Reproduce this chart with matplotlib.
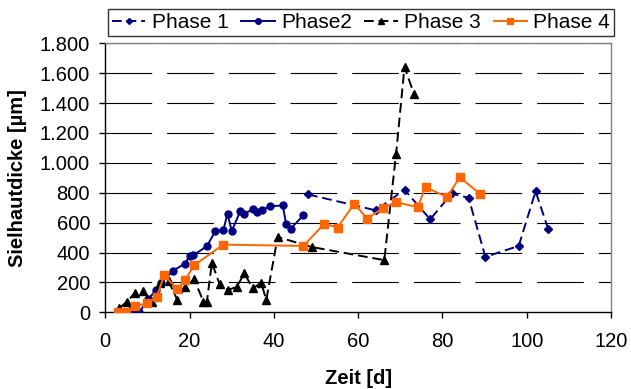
import matplotlib
matplotlib.use("Agg")
import matplotlib.pyplot as plt

plt.rcParams['font.family'] = ['Liberation Sans', 'DejaVu Sans']

# Phase 1 (navy, dashed, diamonds)
p1_x = [48.1, 64.2, 71.0, 77.1, 82.2, 86.2, 90.2, 98.1, 102.1, 105.1]
p1_y = [789, 682, 820, 622, 795, 766, 371, 444, 809, 557]

# Phase2 (navy, solid, circles)
p2_x = [6.3, 8.1, 10.2, 12.0, 13.2, 16.0, 18.9, 20.0, 20.9, 24.1, 26.1, 28.0, 29.0,
        30.0, 32.0, 33.0, 35.0, 36.1, 37.1, 39.0, 42.1, 42.9, 44.0, 47.0]
p2_y = [20, 2, 87, 149, 193, 277, 326, 375, 382, 442, 542, 549, 660,
        544, 675, 660, 689, 671, 682, 709, 715, 593, 560, 649]

# Phase 3 (black, dashed, triangles)
p3_x = [3.3, 5.1, 7.1, 9.0, 11.0, 13.0, 15.0, 17.1, 19.0, 21.1, 23.3, 24.1, 25.3,
        27.1, 29.1, 31.2, 33.0, 35.0, 37.0, 38.2, 40.9, 49.0, 66.2, 69.0, 71.0, 73.2]
p3_y = [27, 71, 131, 144, 70, 193, 209, 82, 171, 220, 71, 71, 331,
        189, 149, 171, 260, 160, 197, 82, 504, 437, 349, 1060, 1642, 1464]

# Phase 4 (orange, solid, squares)
p4_x = [3.1, 5.0, 7.1, 10.0, 12.2, 14.0, 17.1, 18.9, 21.1, 28.0, 47.0, 52.0, 55.1,
        59.1, 62.1, 66.0, 69.0, 74.1, 76.0, 81.1, 84.1, 89.0]
p4_y = [4, 4, 40, 62, 102, 249, 153, 215, 315, 453, 444, 593, 567,
        727, 627, 700, 737, 704, 837, 771, 904, 790]

y_ticks = [0, 200, 400, 600, 800, 1000, 1200, 1400, 1600, 1800]
y_labels = ["0", "200", "400", "600", "800", "1.000", "1.200", "1.400", "1.600", "1.800"]
x_ticks = [0, 20, 40, 60, 80, 100, 120]

navy = "#000080"
orange = "#FF6600"

fig = plt.figure(figsize=(6.31, 3.89), dpi=100)
ax = fig.add_axes([105.3 / 631, 1 - 312.3 / 389, (611 - 105.3) / 631, (312.3 - 43.3) / 389])

for v in y_ticks[1:]:
    ax.axhline(v, color="black", lw=0.8, linestyle=(0, (42, 13.5)), zorder=1)

ax.plot(p1_x, p1_y, color=navy, lw=1.4, dashes=(5, 2.5), marker="D", ms=3.8,
        label="Phase 1", zorder=3)
ax.plot(p2_x, p2_y, color=navy, lw=1.4, marker="o", ms=5, label="Phase2", zorder=3)
ax.plot(p3_x, p3_y, color="black", lw=1.4, dashes=(5, 2.5), marker="^", ms=5.2,
        label="Phase 3", zorder=3)
ax.plot(p4_x, p4_y, color=orange, lw=1.4, marker="s", ms=5.5, label="Phase 4", zorder=4)

ax.set_xlim(0, 120)
ax.set_ylim(0, 1800)
ax.set_xticks(x_ticks)
ax.set_yticks(y_ticks)
ax.set_yticklabels(y_labels)
ax.tick_params(axis="both", direction="out", length=4, width=1, labelsize=14.5, colors="black")
ax.tick_params(axis="y", pad=7)
ax.tick_params(axis="x", pad=10)
for s in ["left", "bottom"]:
    ax.spines[s].set_color("black")
    ax.spines[s].set_linewidth(1)
for s in ["top", "right"]:
    ax.spines[s].set_color("#808080")
    ax.spines[s].set_linewidth(1)

ax.set_xlabel("Zeit [d]", fontsize=14.5, fontweight="bold", labelpad=13)
ax.set_ylabel("Sielhautdicke [µm]", fontsize=14.5, fontweight="bold", labelpad=9)

leg = fig.legend(loc="center", ncol=4, bbox_to_anchor=(108 / 631, 1 - 38 / 389, 506 / 631, 31 / 389),
                 mode="expand", fontsize=15, frameon=True, fancybox=False,
                 edgecolor="black", handlelength=1.6, handletextpad=0.3, borderaxespad=0,
                 borderpad=0.2, columnspacing=0.8, markerscale=0.8)
leg.get_frame().set_linewidth(1)

fig.savefig("out.png", dpi=100)
